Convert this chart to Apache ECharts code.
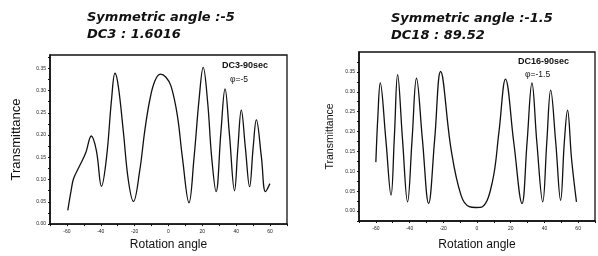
<!DOCTYPE html>
<html>
<head>
<meta charset="utf-8">
<script src="https://cdn.jsdelivr.net/npm/echarts@6/dist/echarts.min.js"></script>
<style>
  html, body { margin: 0; padding: 0; background: #fff; }
  #chart { width: 598px; height: 256px; }
</style>
</head>
<body>
<div id="chart"></div>
<script>
// 左图：DC3-90sec, φ=-5
const leftAngle = [-59.5, -57.5, -56.1, -52.5, -49, -45.6, -42.6, -39.6, -36.6, -33.6, -31.6, -29.7, -26.7, -23.7, -20.7,
    -17, -14, -11, -8, -4.8, -1.5, 1.5, 5.2, 8.2, 12.1, 15.1, 18.1, 20.5, 23.1, 25.5, 28.1,
    31, 33.4, 36, 39, 41, 43, 45.4, 47.9, 50, 51.9, 54.9, 57.3, 59.9];
const leftTrans = [0.031, 0.076, 0.102, 0.131, 0.159, 0.198, 0.165, 0.085, 0.150, 0.282, 0.339, 0.311, 0.209, 0.098, 0.051,
    0.120, 0.210, 0.280, 0.322, 0.337, 0.330, 0.310, 0.245, 0.150, 0.048, 0.150, 0.282, 0.352, 0.275, 0.150, 0.073,
    0.209, 0.304, 0.201, 0.075, 0.172, 0.256, 0.172, 0.084, 0.172, 0.234, 0.150, 0.073, 0.091];

// 右图：DC16-90sec, φ=-1.5
const rightAngle = [-60, -58.8, -57.4, -54.1, -51, -49, -47.1, -44.2, -41.2, -38.5, -35.9, -32.4, -28.7, -25.1, -21.6,
    -15.4, -9.5, -4.6, -0.7, 3.2, 9.1, 13, 16.9, 21.8, 26.7, 29.7, 32.6, 35.5, 39,
    41.4, 43.7, 46.7, 49.6, 51.8, 53.7, 56.1, 59];
const rightTrans = [0.123, 0.239, 0.322, 0.181, 0.040, 0.189, 0.343, 0.181, 0.023, 0.181, 0.334, 0.181, 0.019, 0.181, 0.351,
    0.156, 0.040, 0.011, 0.009, 0.011, 0.073, 0.198, 0.332, 0.173, 0.019, 0.173, 0.322, 0.173, 0.023,
    0.173, 0.304, 0.173, 0.027, 0.173, 0.254, 0.131, 0.023];

// 刻度标签
const xTickLabels = [-60, -40, -20, 0, 20, 40, 60];
const leftYTickLabels = ['0.00', '0.05', '0.10', '0.15', '0.20', '0.25', '0.30', '0.35'];
const rightYTickLabels = ['0.00', '0.05', '0.10', '0.15', '0.20', '0.25', '0.30', '0.35', '0.40'];

const pairs = (xs, ys) => xs.map((x, i) => [x, ys[i]]);

function xAxisOf(gridIndex, nameGap, labelMargin) {
    return {
        type: 'value', gridIndex, min: -70, max: 70, interval: 10,
        name: 'Rotation angle', nameLocation: 'middle', nameGap,
        nameTextStyle: { fontFamily: 'Liberation Sans', fontSize: 12, color: '#111' },
        axisLine: { show: true, onZero: false, lineStyle: { color: '#111', width: 1.6 } },
        axisTick: { show: true, inside: false, length: 2, lineStyle: { color: '#111' } },
        axisLabel: {
            margin: labelMargin, fontSize: 5, color: '#222', fontFamily: 'Liberation Sans',
            formatter: v => xTickLabels.includes(Math.round(v)) && Math.abs(v - Math.round(v)) < 1e-6 ? String(Math.round(v)) : ''
        },
        splitLine: { show: false }
    };
}

function yAxisOf(gridIndex, min, max, labels, nameSize, nameGap) {
    return {
        type: 'value', gridIndex, min, max, interval: 0.025,
        name: 'Transmittance', nameLocation: 'middle', nameGap,
        nameTextStyle: { fontFamily: 'Liberation Sans', fontSize: nameSize, color: '#111' },
        axisLine: { show: true, onZero: false, lineStyle: { color: '#111', width: 1.6 } },
        axisTick: { show: true, inside: false, length: 2, lineStyle: { color: '#111' } },
        axisLabel: {
            margin: 4, fontSize: 5, color: '#222', fontFamily: 'Liberation Sans',
            showMaxLabel: false,
            formatter: v => {
                const s = v.toFixed(2);
                return labels.includes(s) && Math.abs(v * 20 - Math.round(v * 20)) < 1e-6 ? s : '';
            }
        },
        splitLine: { show: false }
    };
}

const titleStyle = { fontFamily: 'DejaVu Sans', fontStyle: 'italic', fontWeight: 'bold', fontSize: 13, color: '#111' };
const noteBold = { fontFamily: 'Liberation Sans', fontWeight: 'bold', fontSize: 9, fill: '#111' };
const noteReg = { fontFamily: 'Liberation Sans', fontSize: 8.5, fill: '#111' };

const chart = echarts.init(document.getElementById('chart'));
chart.setOption({
    animation: false,
    backgroundColor: '#fff',
    title: [
        { text: 'Symmetric angle :-5', left: 87, top: 11, padding: 0, textStyle: titleStyle },
        { text: 'DC3 : 1.6016', left: 87, top: 28, padding: 0, textStyle: titleStyle },
        { text: 'Symmetric angle :-1.5', left: 391, top: 12, padding: 0, textStyle: titleStyle },
        { text: 'DC18 : 89.52', left: 391, top: 29, padding: 0, textStyle: titleStyle }
    ],
    grid: [
        { left: 50, top: 55, width: 237, height: 173, show: true, borderColor: '#111', borderWidth: 1.3, backgroundColor: 'transparent' },
        { left: 359, top: 52, width: 238, height: 171, show: true, borderColor: '#111', borderWidth: 1.3, backgroundColor: 'transparent' }
    ],
    xAxis: [xAxisOf(0, 11, 5), xAxisOf(1, 18, 5)],
    yAxis: [
        yAxisOf(0, 0, 0.38, leftYTickLabels, 13, 27),
        yAxisOf(1, -0.025, 0.40, rightYTickLabels, 10.5, 23)
    ],
    series: [
        {
            type: 'line', xAxisIndex: 0, yAxisIndex: 0, data: pairs(leftAngle, leftTrans),
            smooth: 0.4, showSymbol: false, lineStyle: { color: '#111', width: 1.3 }
        },
        {
            type: 'line', xAxisIndex: 1, yAxisIndex: 1, data: pairs(rightAngle, rightTrans),
            smooth: 0.4, showSymbol: false, lineStyle: { color: '#111', width: 1.3 }
        }
    ],
    graphic: [
        { type: 'text', left: 222, top: 61, style: Object.assign({ text: 'DC3-90sec' }, noteBold) },
        { type: 'text', left: 230, top: 75, style: Object.assign({ text: 'φ=-5' }, noteReg) },
        { type: 'text', left: 518, top: 57, style: Object.assign({ text: 'DC16-90sec' }, noteBold) },
        { type: 'text', left: 525, top: 70, style: Object.assign({ text: 'φ=-1.5' }, noteReg) }
    ]
});
</script>
</body>
</html>
